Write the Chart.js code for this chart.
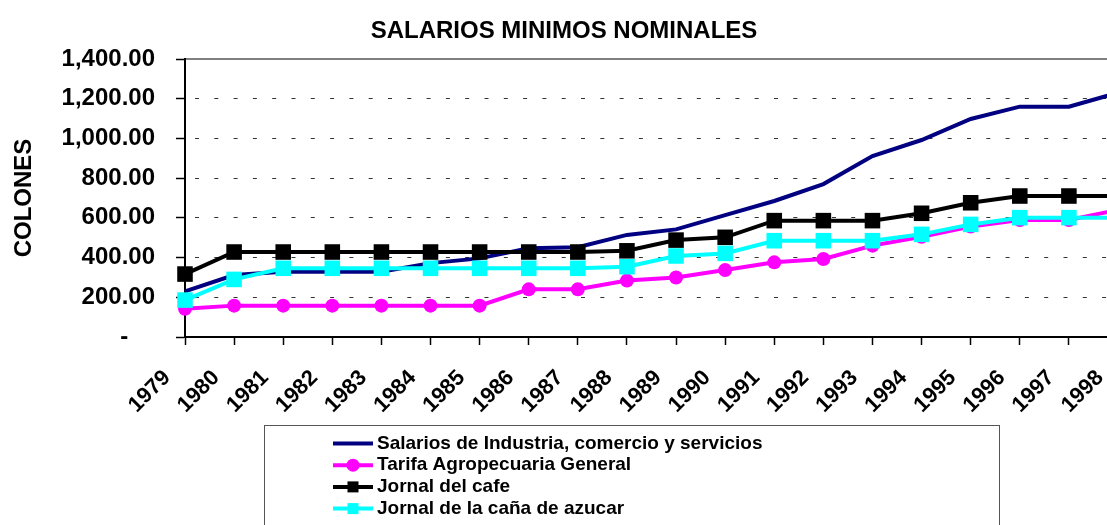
<!DOCTYPE html>
<html>
<head>
<meta charset="utf-8">
<script src="https://cdn.jsdelivr.net/npm/chart.js@4.4.0/dist/chart.umd.min.js"></script>
<style>
  html, body { margin: 0; padding: 0; background: #fff; overflow: hidden; }
  #wrap { width: 1107px; height: 525px; overflow: hidden; }
</style>
</head>
<body>
<div id="wrap"><canvas id="chart" width="1157" height="525"></canvas></div>
<script>
const years = ['1979', '1980', '1981', '1982', '1983', '1984', '1985', '1986', '1987', '1988',
  '1989', '1990', '1991', '1992', '1993', '1994', '1995', '1996', '1997', '1998'];

const seriesNames = [
  'Salarios de Industria, comercio y servicios',
  'Tarifa Agropecuaria General',
  'Jornal del cafe',
  'Jornal de la caña de azucar'
];

const industria = [230, 312, 329, 329, 329, 372, 396, 447, 452, 514, 542, 614, 685, 770, 911, 992, 1098, 1160, 1160, 1230];
const agropecuaria = [142, 158, 158, 158, 158, 158, 158, 240, 240, 284, 300, 337, 376, 393, 460, 505, 556, 589, 589, 640];
const cafe = [317, 428, 428, 428, 428, 428, 428, 428, 428, 434, 488, 502, 586, 586, 586, 623, 676, 710, 710, 710];
const cana = [186, 290, 346, 346, 346, 346, 346, 346, 346, 354, 408, 421, 485, 485, 485, 517, 567, 601, 601, 601];

const yTicks = [0, 200, 400, 600, 800, 1000, 1200, 1400];

const FONT = "'Liberation Sans', Arial, sans-serif";
Chart.defaults.font.family = FONT;
Chart.defaults.font.weight = 'bold';
Chart.defaults.color = '#000';

// legend drawn as a boxed list, one row per series
const boxLegend = {
  id: 'boxLegend',
  afterDraw(chart, args, opts) {
    const ctx = chart.ctx;
    ctx.save();
    ctx.strokeStyle = opts.borderColor;
    ctx.lineWidth = 1;
    ctx.strokeRect(opts.left + 0.5, opts.top + 0.5, opts.right - opts.left, opts.bottom - opts.top);
    ctx.font = opts.font;
    ctx.textBaseline = 'middle';
    ctx.textAlign = 'left';
    chart.data.datasets.forEach((ds, i) => {
      const y = opts.top + opts.firstRow + i * opts.rowHeight;
      ctx.strokeStyle = ds.borderColor;
      ctx.lineWidth = ds.borderWidth;
      ctx.beginPath();
      ctx.moveTo(opts.sampleX, y);
      ctx.lineTo(opts.sampleX + opts.sampleW, y);
      ctx.stroke();
      const cx = opts.sampleX + opts.sampleW / 2;
      ctx.fillStyle = ds.backgroundColor;
      if (ds.pointRadius > 0 && ds.pointStyle === 'circle') {
        ctx.beginPath();
        ctx.arc(cx, y, opts.circleR, 0, Math.PI * 2);
        ctx.fill();
      } else if (ds.pointRadius > 0) {
        ctx.fillRect(cx - opts.squareS / 2, y - opts.squareS / 2, opts.squareS, opts.squareS);
      }
      ctx.fillStyle = '#000';
      ctx.fillText(ds.label, opts.textX, y);
    });
    ctx.restore();
  }
};

new Chart(document.getElementById('chart'), {
  type: 'line',
  data: {
    labels: years,
    datasets: [
      {
        label: seriesNames[0], data: industria,
        borderColor: '#000080', backgroundColor: '#000080',
        borderWidth: 4, pointRadius: 0, tension: 0, order: 4, clip: false
      },
      {
        label: seriesNames[1], data: agropecuaria,
        borderColor: '#FF00FF', backgroundColor: '#FF00FF',
        borderWidth: 4, pointStyle: 'circle', pointRadius: 7, pointBorderWidth: 0,
        tension: 0, order: 3, clip: false
      },
      {
        label: seriesNames[2], data: cafe,
        borderColor: '#000000', backgroundColor: '#000000',
        borderWidth: 4, pointStyle: 'rect', pointRadius: 11, pointBorderWidth: 0,
        tension: 0, order: 2, clip: false
      },
      {
        label: seriesNames[3], data: cana,
        borderColor: '#00FFFF', backgroundColor: '#00FFFF',
        borderWidth: 4, pointStyle: 'rect', pointRadius: 11, pointBorderWidth: 0,
        tension: 0, order: 1, clip: false
      }
    ]
  },
  options: {
    responsive: false,
    animation: false,
    layout: { padding: { left: 10, right: 39, top: 0, bottom: 98 } },
    plugins: {
      legend: { display: false },
      tooltip: { enabled: false },
      title: {
        display: true,
        text: 'SALARIOS MINIMOS NOMINALES',
        color: '#000',
        font: { size: 24, weight: 'bold' },
        padding: { top: 16.5, bottom: 13.7 }
      },
      boxLegend: {
        left: 264, top: 425, right: 999, bottom: 545,
        borderColor: '#555',
        firstRow: 18.5, rowHeight: 21.7,
        sampleX: 333, sampleW: 40, textX: 377,
        circleR: 6.5, squareS: 11,
        font: "bold 19px " + FONT
      }
    },
    scales: {
      x: {
        grid: { drawOnChartArea: false, drawTicks: true, tickLength: 8, tickColor: '#000', tickWidth: 1.5 },
        border: { color: '#000', width: 2 },
        ticks: {
          color: '#000',
          font: { size: 22, weight: 'bold' },
          maxRotation: 45, minRotation: 45,
          autoSkip: false,
          padding: 20,
          labelOffset: -18
        },
        afterFit: (scale) => { scale.height = 90; }
      },
      xTop: {
        type: 'category',
        position: 'top',
        grid: { display: true, drawOnChartArea: false, drawTicks: false },
        ticks: { display: false },
        border: { color: '#808080', width: 2 }
      },
      y: {
        min: 0,
        max: 1400,
        afterBuildTicks: (scale) => { scale.ticks = yTicks.map(v => ({ value: v })); },
        ticks: {
          color: '#000',
          font: { size: 24, weight: 'bold' },
          padding: 21,
          callback: (v) => v === 0 ? '-\u00a0\u00a0\u00a0\u00a0' :
            v.toLocaleString('en-US', { minimumFractionDigits: 2, maximumFractionDigits: 2 })
        },
        grid: {
          color: (ctx) => (ctx.tick && (ctx.tick.value === 0 || ctx.tick.value === 1400)) ? 'rgba(0,0,0,0)' : '#333',
          lineWidth: 1,
          tickColor: '#000',
          tickLength: 9,
          tickWidth: 1.5,
          tickBorderDash: []
        },
        border: { color: '#000', width: 2, dash: [4, 15.3], dashOffset: 10.3 },
        title: {
          display: true,
          text: 'COLONES',
          color: '#000',
          font: { size: 24, weight: 'bold' },
          padding: { top: 0, bottom: 0 }
        },
        afterFit: (scale) => { scale.width = 175; }
      }
    }
  },
  plugins: [boxLegend]
});
</script>
</body>
</html>
